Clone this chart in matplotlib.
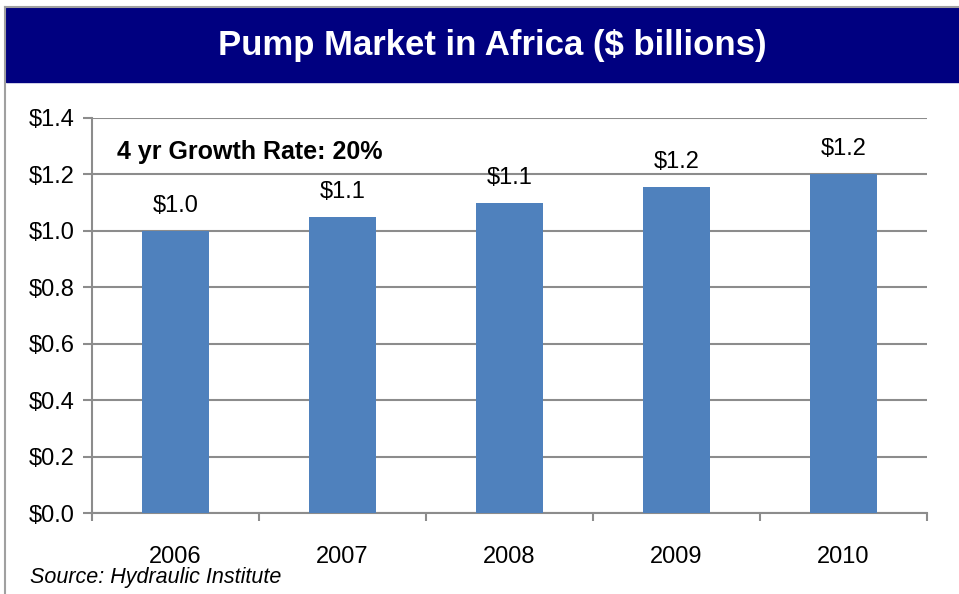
import matplotlib
matplotlib.use("Agg")
import matplotlib.pyplot as plt
from matplotlib.patches import Rectangle
from matplotlib.lines import Line2D

# dados do gráfico
anos = ['2006', '2007', '2008', '2009', '2010']
valores = [1.0, 1.05, 1.10, 1.155, 1.20]
rotulos = ['$1.0', '$1.1', '$1.1', '$1.2', '$1.2']
yticks = [0.0, 0.2, 0.4, 0.6, 0.8, 1.0, 1.2, 1.4]
ytick_labels = ['$%.1f' % v for v in yticks]

plt.rcParams['font.family'] = ['Liberation Sans', 'DejaVu Sans']
W, H = 959, 594
f = plt.figure(figsize=(W / 100, H / 100), dpi=100)
f.patch.set_facecolor('white')

cinza = '#8c8c8c'

# faixa do titulo
f.patches.append(Rectangle((6 / W, 1 - 82 / H), 1 - 6 / W, 74 / H,
                           transform=f.transFigure, color='#000080', zorder=0))
f.text(492 / W, 1 - 46 / H, 'Pump Market in Africa ($ billions)', color='white',
       fontsize=25, weight='bold', ha='center', va='center')

# bordas externas
f.add_artist(Line2D([5 / W, 1], [1 - 7 / H, 1 - 7 / H], color='#a0a0a0', lw=1.5,
                    transform=f.transFigure))
f.add_artist(Line2D([5 / W, 5 / W], [0, 1 - 7 / H], color='#a0a0a0', lw=1.5,
                    transform=f.transFigure))

ax = f.add_axes([92 / W, (H - 513) / H, 835 / W, 395 / H])
x = list(range(len(anos)))
ax.bar(x, valores, width=0.4, color='#4F81BD', zorder=3)
for xi, v, r in zip(x, valores, rotulos):
    ax.text(xi, v + 0.05, r, ha='center', va='bottom', fontsize=17)

ax.set_xlim(-0.5, 4.5)
ax.set_ylim(0, 1.4)
ax.set_yticks(yticks)
ax.set_yticklabels(ytick_labels, fontsize=17)
ax.set_xticks(x)
ax.set_xticklabels(anos, fontsize=17)
ax.set_xticks([i + 0.5 for i in range(-1, 5)], minor=True)
ax.tick_params(axis='x', which='major', length=0, pad=24)
ax.tick_params(axis='x', which='minor', length=6, width=1.5, color=cinza, direction='out')
ax.tick_params(axis='y', length=6.5, width=1.5, color=cinza, pad=6)

ax.grid(axis='y', color=cinza, lw=1.5, zorder=0)
ax.set_axisbelow(True)
for s in ['top', 'right']:
    ax.spines[s].set_visible(False)
for s in ['left', 'bottom']:
    ax.spines[s].set_color(cinza)
    ax.spines[s].set_linewidth(1.5)

ax.text(0.03, 0.915, '4 yr Growth Rate: 20%', transform=ax.transAxes,
        fontsize=18, weight='bold', ha='left', va='center')

f.text(30 / W, 1 - 578 / H, 'Source: Hydraulic Institute', style='italic',
       fontsize=15.5, ha='left', va='center')

plt.savefig('out.png', dpi=100)
